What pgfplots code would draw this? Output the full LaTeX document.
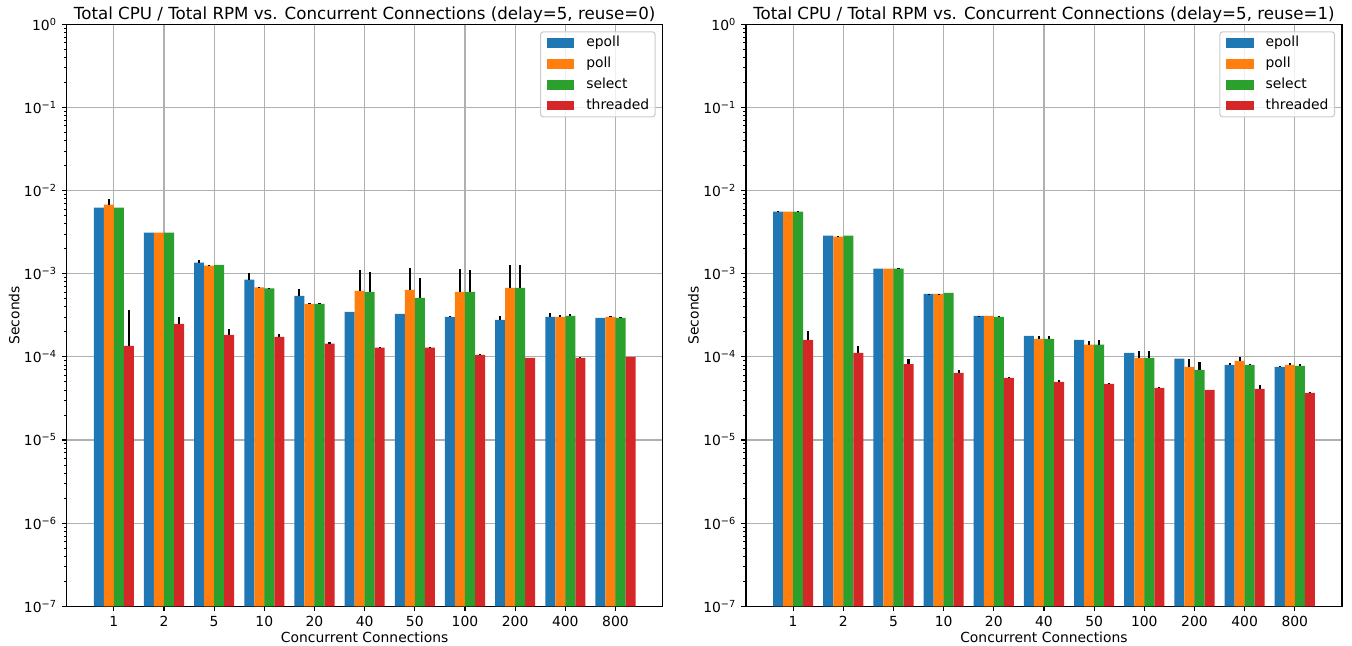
\documentclass[border=0pt]{standalone}
\usepackage{fontspec}
\setmainfont{DejaVu Sans}
\usepackage{pgfplots}
\usepackage{pgfplotstable}
\pgfplotsset{compat=1.18}

\definecolor{cblue}{HTML}{1F77B4}
\definecolor{corange}{HTML}{FF7F0E}
\definecolor{cgreen}{HTML}{2CA02C}
\definecolor{cred}{HTML}{D62728}
\definecolor{gridgray}{HTML}{B0B0B0}
\definecolor{legedge}{HTML}{CCCCCC}

% columns: group index, mean seconds, upper error
% ---------- reuse = 0 ----------
\pgfplotstableread{
x y e
0 6.24e-3 0
1 3.12e-3 0
2 1.36e-3 0.09e-3
3 8.5e-4 1.6e-4
4 5.43e-4 1.17e-4
5 3.48e-4 0
6 3.3e-4 0
7 3.03e-4 7e-6
8 2.79e-4 3e-5
9 3.03e-4 3.6e-5
10 2.95e-4 0
}\epollA
\pgfplotstableread{
x y e
0 6.78e-3 1.12e-3
1 3.12e-3 0
2 1.25e-3 2e-5
3 6.84e-4 6e-6
4 4.35e-4 5e-6
5 6.24e-4 4.9e-4
6 6.4e-4 5.3e-4
7 6.07e-4 5.3e-4
8 6.78e-4 6.0e-4
9 3.03e-4 1.7e-5
10 3.03e-4 4e-6
}\pollA
\pgfplotstableread{
x y e
0 6.24e-3 0
1 3.12e-3 0
2 1.28e-3 0
3 6.66e-4 9e-6
4 4.35e-4 5e-6
5 6.07e-4 4.4e-4
6 5.14e-4 3.7e-4
7 6.07e-4 5.0e-4
8 6.78e-4 6.0e-4
9 3.12e-4 1.8e-5
10 2.95e-4 3e-6
}\selectA
\pgfplotstableread{
x y e
0 1.36e-4 2.29e-4
1 2.5e-4 5.3e-5
2 1.84e-4 3.1e-5
3 1.74e-4 1.6e-5
4 1.44e-4 7e-6
5 1.29e-4 2e-6
6 1.29e-4 2e-6
7 1.06e-4 2e-6
8 9.7e-5 0
9 9.7e-5 3e-6
10 1.0e-4 0
}\threadA
% ---------- reuse = 1 ----------
\pgfplotstableread{
x y e
0 5.58e-3 7e-5
1 2.87e-3 0
2 1.15e-3 0
3 5.74e-4 3e-6
4 3.12e-4 2e-6
5 1.79e-4 0
6 1.6e-4 0
7 1.12e-4 0
8 9.5e-5 0
9 8.0e-5 5e-6
10 7.6e-5 1e-6
}\epollB
\pgfplotstableread{
x y e
0 5.58e-3 0
1 2.79e-3 3e-5
2 1.15e-3 0
3 5.74e-4 3e-6
4 3.12e-4 0
5 1.65e-4 1.5e-5
6 1.4e-4 1.6e-5
7 9.7e-5 2.1e-5
8 7.6e-5 1.9e-5
9 8.95e-5 1.05e-5
10 8.0e-5 5e-6
}\pollB
\pgfplotstableread{
x y e
0 5.58e-3 7e-5
1 2.87e-3 0
2 1.15e-3 1e-5
3 5.88e-4 0
4 3.03e-4 5e-6
5 1.65e-4 1.5e-5
6 1.4e-4 2e-5
7 9.7e-5 2.1e-5
8 7.0e-5 1.7e-5
9 8.0e-5 2e-6
10 7.8e-5 4e-6
}\selectB
\pgfplotstableread{
x y e
0 1.6e-4 4.6e-5
1 1.12e-4 2.4e-5
2 8.2e-5 1.3e-5
3 6.4e-5 5e-6
4 5.6e-5 2e-6
5 5.0e-5 2e-6
6 4.73e-5 1e-6
7 4.24e-5 1e-6
8 4.0e-5 0
9 4.12e-5 4.8e-6
10 3.68e-5 1.2e-6
}\threadB

% shared look of both panels
\pgfplotsset{
  scale only axis,
  width=429.1bp, height=419bp,
  log origin=infty,
  xtick={0,...,10},
  xticklabels={1,2,5,10,20,40,50,100,200,400,800},
  ytick={1e-7,1e-6,1e-5,1e-4,1e-3,1e-2,1e-1,1},
  yticklabels={10\textsuperscript{−7},10\textsuperscript{−6},10\textsuperscript{−5},10\textsuperscript{−4},10\textsuperscript{−3},10\textsuperscript{−2},10\textsuperscript{−1},10\textsuperscript{0}},
  minor ytick={2e-7,3e-7,4e-7,5e-7,6e-7,7e-7,8e-7,9e-7,
    2e-6,3e-6,4e-6,5e-6,6e-6,7e-6,8e-6,9e-6,
    2e-5,3e-5,4e-5,5e-5,6e-5,7e-5,8e-5,9e-5,
    2e-4,3e-4,4e-4,5e-4,6e-4,7e-4,8e-4,9e-4,
    2e-3,3e-3,4e-3,5e-3,6e-3,7e-3,8e-3,9e-3,
    2e-2,3e-2,4e-2,5e-2,6e-2,7e-2,8e-2,9e-2,
    2e-1,3e-1,4e-1,5e-1,6e-1,7e-1,8e-1,9e-1},
  tick pos=left,
  tick align=outside,
  major tick length=3.5bp,
  minor tick length=2bp,
  major tick style={black, line width=0.8bp},
  minor tick style={black, line width=0.6bp},
  major grid style={gridgray, line width=0.8bp},
  axis line style={black, line width=0.8bp},
  tick label style={font=\fontsize{10bp}{12bp}\selectfont, inner sep=0pt},
  xticklabel style={anchor=north, yshift=-3.5bp},
  yticklabel style={anchor=east, xshift=-3.5bp},
  every axis title/.style={at={(0.5,1)}, anchor=base, yshift=3.8bp,
    inner sep=0pt, font=\fontsize{12bp}{14bp}\selectfont},
  every axis x label/.style={at={(axis description cs:0.5,0)}, anchor=north,
    yshift=-18.5bp, inner sep=0pt, font=\fontsize{10bp}{12bp}\selectfont},
  every axis y label/.style={at={(axis description cs:-0.0795,0.5)}, anchor=base,
    rotate=90, inner sep=0pt, font=\fontsize{10bp}{12bp}\selectfont},
  legend cell align=left,
  legend style={at={(1,1)}, anchor=north east, xshift=-5bp, yshift=-5bp,
    draw=legedge, line width=0.8bp, rounded corners=2bp,
    fill=white, fill opacity=0.8, draw opacity=1, text opacity=1,
    inner xsep=4.3bp, inner ysep=3.1bp,
    row sep=5bp, column sep=8.6bp,
    font=\fontsize{10bp}{12bp}\selectfont,
    nodes={inner sep=0pt, text height=7.6bp, text depth=2.4bp}},
}

\begin{document}
\begin{tikzpicture}
\path[use as bounding box] (0,0) rectangle (973.44bp,465.12bp);

\begin{axis}[at={(48bp,28.6bp)}, anchor=south west,
  ymode=log, ymin=1e-7, ymax=1, xmin=-0.94, xmax=10.94,
  grid=major,
  xlabel={Concurrent Connections}, ylabel={Seconds},
  title={Total CPU / Total RPM vs. Concurrent Connections (delay=5, reuse=0)}]
% bars
\addplot[ybar, bar width=0.2, bar shift=-0.3, fill=cblue, draw=none,
  legend image code/.code={\fill[cblue, sharp corners, fill opacity=1] (0bp,-3.5bp) rectangle (20bp,3.5bp);}]
  table[x=x, y=y] {\epollA};
\addplot[ybar, bar width=0.2, bar shift=-0.1, fill=corange, draw=none,
  legend image code/.code={\fill[corange, sharp corners, fill opacity=1] (0bp,-3.5bp) rectangle (20bp,3.5bp);}]
  table[x=x, y=y] {\pollA};
\addplot[ybar, bar width=0.2, bar shift=0.1, fill=cgreen, draw=none,
  legend image code/.code={\fill[cgreen, sharp corners, fill opacity=1] (0bp,-3.5bp) rectangle (20bp,3.5bp);}]
  table[x=x, y=y] {\selectA};
\addplot[ybar, bar width=0.2, bar shift=0.3, fill=cred, draw=none,
  legend image code/.code={\fill[cred, sharp corners, fill opacity=1] (0bp,-3.5bp) rectangle (20bp,3.5bp);}]
  table[x=x, y=y] {\threadA};
% upper error bars, centred on each bar
\addplot[draw=none, mark=none, forget plot,
  error bars/.cd, y dir=plus, y explicit, error mark=none,
  error bar style={draw=black, line width=1.5bp}]
  table[x expr=\thisrow{x}-0.3, y=y, y error=e] {\epollA};
\addplot[draw=none, mark=none, forget plot,
  error bars/.cd, y dir=plus, y explicit, error mark=none,
  error bar style={draw=black, line width=1.5bp}]
  table[x expr=\thisrow{x}-0.1, y=y, y error=e] {\pollA};
\addplot[draw=none, mark=none, forget plot,
  error bars/.cd, y dir=plus, y explicit, error mark=none,
  error bar style={draw=black, line width=1.5bp}]
  table[x expr=\thisrow{x}+0.1, y=y, y error=e] {\selectA};
\addplot[draw=none, mark=none, forget plot,
  error bars/.cd, y dir=plus, y explicit, error mark=none,
  error bar style={draw=black, line width=1.5bp}]
  table[x expr=\thisrow{x}+0.3, y=y, y error=e] {\threadA};
\legend{epoll,poll,select,threaded}
\end{axis}

\begin{axis}[at={(537.1bp,28.6bp)}, anchor=south west,
  ymode=log, ymin=1e-7, ymax=1, xmin=-0.94, xmax=10.94,
  grid=major,
  xlabel={Concurrent Connections}, ylabel={Seconds},
  title={Total CPU / Total RPM vs. Concurrent Connections (delay=5, reuse=1)}]
% bars
\addplot[ybar, bar width=0.2, bar shift=-0.3, fill=cblue, draw=none,
  legend image code/.code={\fill[cblue, sharp corners, fill opacity=1] (0bp,-3.5bp) rectangle (20bp,3.5bp);}]
  table[x=x, y=y] {\epollB};
\addplot[ybar, bar width=0.2, bar shift=-0.1, fill=corange, draw=none,
  legend image code/.code={\fill[corange, sharp corners, fill opacity=1] (0bp,-3.5bp) rectangle (20bp,3.5bp);}]
  table[x=x, y=y] {\pollB};
\addplot[ybar, bar width=0.2, bar shift=0.1, fill=cgreen, draw=none,
  legend image code/.code={\fill[cgreen, sharp corners, fill opacity=1] (0bp,-3.5bp) rectangle (20bp,3.5bp);}]
  table[x=x, y=y] {\selectB};
\addplot[ybar, bar width=0.2, bar shift=0.3, fill=cred, draw=none,
  legend image code/.code={\fill[cred, sharp corners, fill opacity=1] (0bp,-3.5bp) rectangle (20bp,3.5bp);}]
  table[x=x, y=y] {\threadB};
% upper error bars, centred on each bar
\addplot[draw=none, mark=none, forget plot,
  error bars/.cd, y dir=plus, y explicit, error mark=none,
  error bar style={draw=black, line width=1.5bp}]
  table[x expr=\thisrow{x}-0.3, y=y, y error=e] {\epollB};
\addplot[draw=none, mark=none, forget plot,
  error bars/.cd, y dir=plus, y explicit, error mark=none,
  error bar style={draw=black, line width=1.5bp}]
  table[x expr=\thisrow{x}-0.1, y=y, y error=e] {\pollB};
\addplot[draw=none, mark=none, forget plot,
  error bars/.cd, y dir=plus, y explicit, error mark=none,
  error bar style={draw=black, line width=1.5bp}]
  table[x expr=\thisrow{x}+0.1, y=y, y error=e] {\selectB};
\addplot[draw=none, mark=none, forget plot,
  error bars/.cd, y dir=plus, y explicit, error mark=none,
  error bar style={draw=black, line width=1.5bp}]
  table[x expr=\thisrow{x}+0.3, y=y, y error=e] {\threadB};
\legend{epoll,poll,select,threaded}
\end{axis}
\end{tikzpicture}
\end{document}
